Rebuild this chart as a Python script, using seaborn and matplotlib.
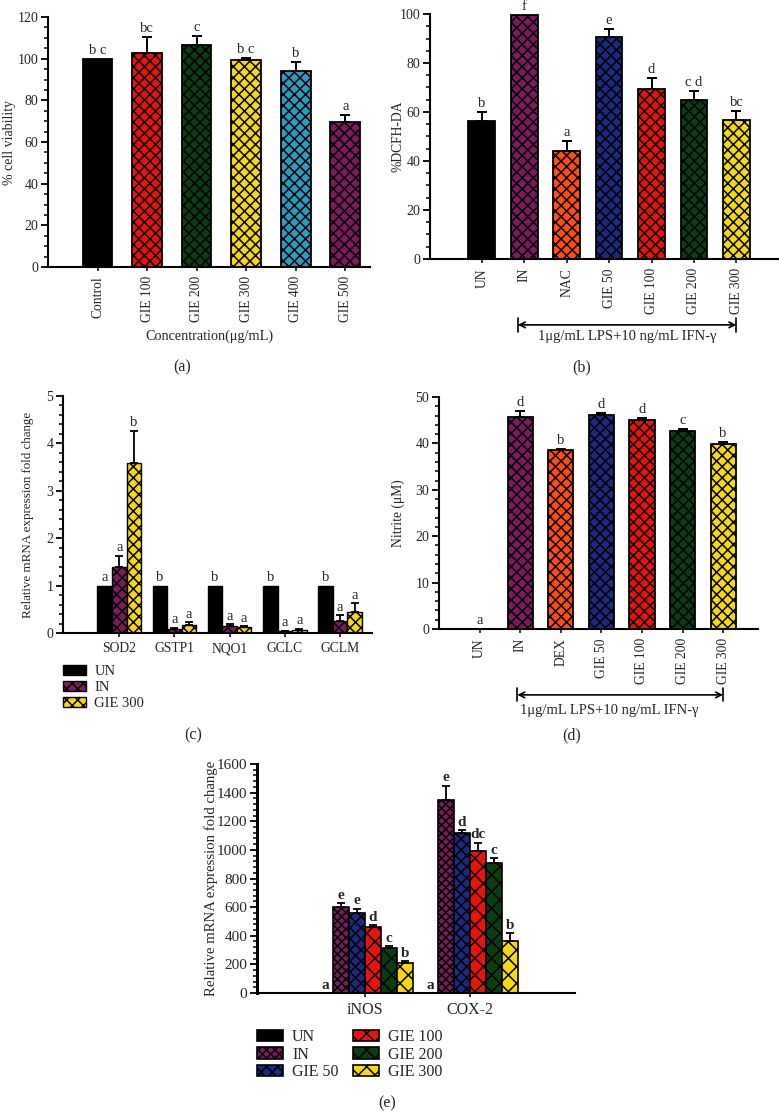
import numpy as np
import pandas as pd
import matplotlib
matplotlib.use("Agg")
import matplotlib.pyplot as plt
import seaborn as sns
from matplotlib.ticker import AutoMinorLocator, MultipleLocator
from matplotlib.container import BarContainer
import matplotlib.transforms as mtransforms

# ---------------- data ----------------
# (a) cell viability
a_groups = ["Control", "GIE 100", "GIE 200", "GIE 300", "GIE 400", "GIE 500"]
a_values = [100.0, 102.6, 106.6, 99.3, 94.2, 69.8]
a_err = [0.0, 7.6, 4.4, 1.2, 4.3, 3.1]
a_letters = ["b c", "bc", "c", "b c", "b", "a"]

# (b) %DCFH-DA
b_groups = ["UN", "IN", "NAC", "GIE 50", "GIE 100", "GIE 200", "GIE 300"]
b_values = [56.5, 99.7, 44.1, 90.5, 69.2, 64.7, 56.7]
b_err = [3.3, 0.0, 3.9, 3.4, 4.5, 3.8, 3.8]
b_letters = ["b", "f", "a", "e", "d", "c d", "bc"]

# (c) antioxidant genes
c_genes = ["SOD2", "GSTP1", "NQO1", "GCLC", "GCLM"]
c_groups = ["UN", "IN", "GIE 300"]
c_un = [1.0, 1.0, 1.0, 1.0, 1.0]
c_in = [1.40, 0.08, 0.14, 0.04, 0.25]
c_gie300 = [3.58, 0.16, 0.12, 0.07, 0.44]
c_un_err = [0.0, 0.0, 0.0, 0.0, 0.0]
c_in_err = [0.23, 0.03, 0.04, 0.01, 0.13]
c_gie300_err = [0.69, 0.07, 0.03, 0.02, 0.19]
c_un_letters = ["a", "b", "b", "b", "b"]
c_in_letters = ["a", "a", "a", "a", "a"]
c_gie300_letters = ["b", "a", "a", "a", "a"]

# (d) nitrite
d_groups = ["UN", "IN", "DEX", "GIE 50", "GIE 100", "GIE 200", "GIE 300"]
d_values = [0.0, 45.6, 38.5, 46.1, 45.1, 42.6, 39.9]
d_err = [0.0, 1.3, 0.2, 0.5, 0.3, 0.4, 0.4]
d_letters = ["a", "d", "b", "d", "d", "c", "b"]

# (e) iNOS / COX-2
e_genes = ["iNOS", "COX-2"]
e_groups = ["UN", "IN", "GIE 50", "GIE 100", "GIE 200", "GIE 300"]
e_un = [0.0, 0.0]
e_in = [603, 1346]
e_gie50 = [556, 1117]
e_gie100 = [458, 993]
e_gie200 = [311, 907]
e_gie300 = [213, 362]
e_un_err = [0, 0]
e_in_err = [23, 103]
e_gie50_err = [33, 19]
e_gie100_err = [16, 58]
e_gie200_err = [18, 35]
e_gie300_err = [9, 54]
e_un_letters = ["a", "a"]
e_in_letters = ["e", "e"]
e_gie50_letters = ["e", "d"]
e_gie100_letters = ["d", "dc"]
e_gie200_letters = ["c", "c"]
e_gie300_letters = ["b", "b"]

# ---------------- style ----------------
sns.set_theme(style="ticks")
plt.rcParams["font.family"] = ["Liberation Serif", "DejaVu Serif"]
plt.rcParams["hatch.linewidth"] = 1.1
plt.rcParams["axes.linewidth"] = 1.5

COL = {
    "black": "#000000", "red": "#e8140c", "green": "#0b3d12", "yellow": "#f5d90a",
    "teal": "#2b9cc0", "purple": "#7b1b5c", "orange": "#ff4d10", "navy": "#1b2a80",
}

W, H = 779, 1111
fig = plt.figure(figsize=(W / 100, H / 100), dpi=100)


def add_ax(left, right, top, bottom):
    return fig.add_axes([left / W, 1 - bottom / H, (right - left) / W, (bottom - top) / H])


def style_axis(ax, ylim, major, minor_n, labelsize=10):
    ax.set_ylim(*ylim)
    ax.yaxis.set_major_locator(MultipleLocator(major))
    ax.yaxis.set_minor_locator(AutoMinorLocator(minor_n))
    sns.despine(ax=ax)
    for s in ("left", "bottom"):
        ax.spines[s].set_linewidth(1.5)
        ax.spines[s].set_color("black")
    ax.tick_params(axis="y", which="major", length=5, width=1.3, labelsize=labelsize, color="black", pad=2)
    ax.tick_params(axis="y", which="minor", length=3, width=1.1, color="black")
    ax.tick_params(axis="x", length=3, width=1.1, labelsize=labelsize, color="black")


def simple_panel(ax, groups, values, errs, letters, colors, hatches, width):
    df = pd.DataFrame({"group": groups, "value": values})
    sns.barplot(data=df, x="group", y="value", hue="group", order=groups, hue_order=groups,
                palette=dict(zip(groups, colors)), width=width, edgecolor="black", linewidth=1.3,
                errorbar=None, legend=False, ax=ax, saturation=1)
    bars = [p for c in ax.containers if isinstance(c, BarContainer) for p in c]
    for p, h in zip(bars, hatches):
        if h:
            p.set_hatch(h)
    xs = np.array([p.get_x() + p.get_width() / 2 for p in bars])
    v = np.array(values, dtype=float)
    e = np.array(errs, dtype=float)
    m = e > 0
    ax.errorbar(xs[m], v[m], yerr=[np.zeros(m.sum()), e[m]], fmt="none", ecolor="black",
                elinewidth=1.4, capsize=3.5, capthick=1.4, zorder=1)
    for x, vv, ee, t in zip(xs, v, e, letters):
        ax.annotate(t, (x, vv + ee), xytext=(0, 1.5), textcoords="offset points",
                    ha="center", va="bottom", fontsize=10.5)
    ax.set_xlabel("")
    ax.set_ylabel("")
    ax.tick_params(axis="x", labelrotation=90)


def grouped_panel(ax, genes, groups, vals, errs, letters, colors, hatches, width, lw, fs, fw):
    df = pd.DataFrame({
        "gene": [g for _ in groups for g in genes],
        "group": [grp for grp in groups for _ in genes],
        "value": [x for vv in vals for x in vv],
    })
    sns.barplot(data=df, x="gene", y="value", hue="group", order=genes, hue_order=groups,
                palette=dict(zip(groups, colors)), width=width, gap=0, edgecolor="black",
                linewidth=lw, errorbar=None, legend=False, ax=ax, saturation=1)
    conts = [c for c in ax.containers if isinstance(c, BarContainer)]
    for cont, h, vv, ee, ll in zip(conts, hatches, vals, errs, letters):
        xs = np.array([p.get_x() + p.get_width() / 2 for p in cont])
        if h:
            for p in cont:
                p.set_hatch(h)
        v = np.array(vv, dtype=float)
        e = np.array(ee, dtype=float)
        m = e > 0
        if m.any():
            ax.errorbar(xs[m], v[m], yerr=[np.zeros(m.sum()), e[m]], fmt="none", ecolor="black",
                        elinewidth=1.3, capsize=3, capthick=1.3, zorder=1)
        for x, a, b, t in zip(xs, v, e, ll):
            ax.annotate(t, (x, a + b), xytext=(0, 1.0), textcoords="offset points",
                        ha="center", va="bottom", fontsize=fs, fontweight=fw)
    ax.set_xlabel("")
    ax.set_ylabel("")
    return conts


def bracket(ax, x0, x1, y, text, tx, ty):
    tr = mtransforms.blended_transform_factory(ax.transData, ax.transAxes)
    ax.annotate("", xy=(x1, y), xytext=(x0, y), xycoords=tr, textcoords=tr,
                arrowprops=dict(arrowstyle="<->", lw=1.2, color="black", shrinkA=0, shrinkB=0,
                                mutation_scale=10),
                annotation_clip=False)
    for xx in (x0, x1):
        ax.plot([xx, xx], [y - 0.028, y + 0.028], transform=tr, color="black", lw=1.2, clip_on=False)
    ax.text(tx, ty, text, transform=tr, ha="center", va="center", fontsize=10.5)


# ---------------- panel (a) ----------------
ax_a = add_ax(48, 370, 17, 267)
simple_panel(ax_a, a_groups, a_values, a_err, a_letters,
             [COL["black"], COL["red"], COL["green"], COL["yellow"], COL["teal"], COL["purple"]],
             [None, "xxx", "xxx", "xxx", "xxx", "xxx"], 0.6)
style_axis(ax_a, (0, 120), 20, 4)
ax_a.set_xlim(-1.0, 5.5)
ax_a.tick_params(axis="x", labelsize=9.8)
ax_a.set_ylabel("% cell viability", fontsize=10)
ax_a.yaxis.set_label_coords(-0.100, 0.5)
ax_a.set_xlabel("Concentration(μg/mL)", fontsize=10.3, labelpad=5)

# ---------------- panel (b) ----------------
ax_b = add_ax(430, 778, 14, 259)
simple_panel(ax_b, b_groups, b_values, b_err, b_letters,
             [COL["black"], COL["purple"], COL["orange"], COL["navy"], COL["red"], COL["green"], COL["yellow"]],
             [None, "xxx", "xxx", "xxx", "xxx", "xxx", "xxx"], 0.63)
style_axis(ax_b, (0, 100), 20, 4)
ax_b.set_xlim(-1.22, 6.98)
ax_b.tick_params(axis="x", labelsize=9.8)
ax_b.set_ylabel("%DCFH-DA", fontsize=9.8)
ax_b.yaxis.set_label_coords(-0.072, 0.5)
bracket(ax_b, 0.85, 6.0, -0.269, "1μg/mL LPS+10 ng/mL IFN-γ", 3.42, -0.318)

# ---------------- panel (c) ----------------
ax_c = add_ax(63, 372, 396, 633)
conts_c = grouped_panel(ax_c, c_genes, c_groups, [c_un, c_in, c_gie300],
                        [c_un_err, c_in_err, c_gie300_err],
                        [c_un_letters, c_in_letters, c_gie300_letters],
                        [COL["black"], COL["purple"], COL["yellow"]], [None, "xxx", "xxx"],
                        0.79, 1.0, 10.5, "normal")
style_axis(ax_c, (0, 5), 1, 5)
ax_c.set_xlim(-1.02, 4.58)
ax_c.tick_params(axis="x", labelsize=9.8)
ax_c.set_ylabel("Relative mRNA expression fold change", fontsize=9.4)
ax_c.yaxis.set_label_coords(-0.094, 0.5)
ax_c.legend(handles=conts_c, labels=c_groups, loc="upper left",
            bbox_to_anchor=(63 / W, 1 - 665 / H), bbox_transform=fig.transFigure,
            frameon=False, fontsize=10.5, handlelength=1.55, handleheight=0.7,
            labelspacing=0.2, borderaxespad=0, borderpad=0, handletextpad=0.6)

# ---------------- panel (d) ----------------
ax_d = add_ax(439, 758, 397, 629)
simple_panel(ax_d, d_groups, d_values, d_err, d_letters,
             [COL["black"], COL["purple"], COL["orange"], COL["navy"], COL["red"], COL["green"], COL["yellow"]],
             [None, "xxx", "xxx", "xxx", "xxx", "xxx", "xxx"], 0.62)
style_axis(ax_d, (0, 50), 10, 5)
ax_d.set_xlim(-1.0, 6.86)
ax_d.tick_params(axis="x", labelsize=9.8)
ax_d.set_ylabel("Nitrite (μM)", fontsize=9.8)
ax_d.yaxis.set_label_coords(-0.107, 0.5)
bracket(ax_d, 0.93, 6.0, -0.284, "1μg/mL LPS+10 ng/mL IFN-γ", 3.2, -0.35)

# ---------------- panel (e) ----------------
ax_e = add_ax(257, 575, 764, 993)
conts_e = grouped_panel(ax_e, e_genes, e_groups,
                        [e_un, e_in, e_gie50, e_gie100, e_gie200, e_gie300],
                        [e_un_err, e_in_err, e_gie50_err, e_gie100_err, e_gie200_err, e_gie300_err],
                        [e_un_letters, e_in_letters, e_gie50_letters, e_gie100_letters,
                         e_gie200_letters, e_gie300_letters],
                        [COL["black"], COL["purple"], COL["navy"], COL["red"], COL["green"], COL["yellow"]],
                        [None, "xxxx", "xxx", "xx", "xx", "xx"], 0.91, 1.2, 11, "bold")
style_axis(ax_e, (0, 1600), 200, 5, labelsize=11)
ax_e.set_xlim(-1.03, 2.0)
ax_e.tick_params(axis="x", labelsize=11.5)
ax_e.spines["left"].set_linewidth(2.2)
ax_e.set_ylabel("Relative mRNA expression fold change", fontsize=10.6)
ax_e.yaxis.set_label_coords(-0.123, 0.5)
ax_e.legend(handles=conts_e, labels=e_groups, loc="upper left", ncol=2,
            bbox_to_anchor=(257 / W, 1 - 1029 / H), bbox_transform=fig.transFigure,
            frameon=False, fontsize=11.5, handlelength=1.6, handleheight=0.7,
            labelspacing=0.1, borderaxespad=0, borderpad=0, handletextpad=0.6, columnspacing=0.9)

# ---------------- panel labels ----------------
for t, x, y in [("(a)", 182, 367), ("(b)", 582, 367), ("(c)", 193, 735), ("(d)", 572, 735), ("(e)", 387, 1103)]:
    fig.text(x / W, 1 - y / H, t, ha="center", va="center", fontsize=11.5)

fig.savefig("out.png", dpi=100)
